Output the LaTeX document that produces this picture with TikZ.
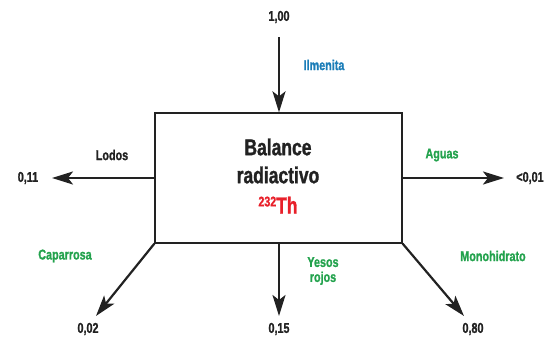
\documentclass[tikz,border=0pt]{standalone}
\usepackage{fontspec}
\setmainfont{Liberation Sans}[FakeStretch=0.78]
\newfontfamily\heavyfont{Liberation Sans Bold}[FakeStretch=0.76,FakeBold=1.2]
\usetikzlibrary{arrows.meta}
\definecolor{ink}{HTML}{222222}
\definecolor{lblue}{HTML}{1B7DB8}
\definecolor{lgreen}{HTML}{23A24D}
\definecolor{lred}{HTML}{E8202A}
\tikzset{
  arr/.style={draw=ink, line width=2.2pt, -{Stealth[length=21pt,width=13pt,inset=5pt]}},
  val/.style={font=\fontsize{14.2}{15}\heavyfont, text=ink, inner sep=0pt},
  grn/.style={font=\fontsize{14.2}{15}\heavyfont, text=lgreen, inner sep=0pt, align=center},
  title/.style={font=\fontsize{23}{26}\heavyfont, text=ink, inner sep=0pt},
}
\begin{document}
\begin{tikzpicture}[x=1pt,y=-1pt]
\useasboundingbox (0,0) rectangle (550,340);
\node[draw=ink, line width=1.3pt, minimum width=247pt, minimum height=130pt, inner sep=0pt] (box) at (278.5,178) {};
\node[title] (t1) at (278,147) {Balance};
\node[title] (t2) at (278,175) {radiactivo};
\node[title, text=lred] (t3) at (278,205) {\raisebox{7pt}{\fontsize{14}{15}\heavyfont 232}Th};
% top
\node[val] (v100) at (279,17) {1,00};
\node[val, text=lblue] (ilm) at (324,65) {Ilmenita};
\coordinate (tT) at (279,37);
\draw[arr] (tT) -- (box.north -| tT);
% left
\node[val] (v011) at (28,178) {0,11};
\node[val] (lod) at (112,155) {Lodos};
\coordinate (tL) at (52,178);
\draw[arr] (box.west) -- (tL);
% right
\node[val] (v001) at (530,178) {<0,01};
\node[grn] (agu) at (442,155) {Aguas};
\coordinate (tR) at (504,178);
\draw[arr] (box.east) -- (tR);
% bottom
\node[grn] (cap) at (65,256) {Caparrosa};
\node[grn] (yes) at (323,271) {Yesos\\[0pt]rojos};
\node[grn] (mon) at (493,256) {Monohidrato};
\node[val] (v002) at (88,329) {0,02};
\node[val] (v015) at (279,329) {0,15};
\node[val] (v080) at (473,329) {0,80};
\coordinate (tB1) at (96,316);
\coordinate (tB2) at (279,316);
\coordinate (tB3) at (464,316);
\draw[arr] (box.south west) -- (tB1);
\draw[arr] (box.south -| tB2) -- (tB2);
\draw[arr] (box.south east) -- (tB3);
\end{tikzpicture}
\end{document}
